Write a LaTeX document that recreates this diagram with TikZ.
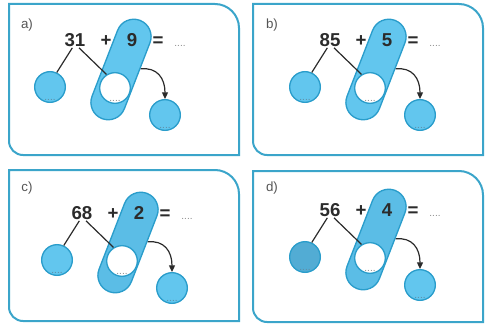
\documentclass[tikz,border=0pt]{standalone}
\usepackage{fontspec}
\setmainfont{Liberation Sans}
\usetikzlibrary{arrows.meta}
\definecolor{boxc}{HTML}{3BA5CA}
\definecolor{cfill}{HTML}{62C6EE}
\definecolor{cedge}{HTML}{2A9DCB}
\definecolor{cdark}{HTML}{52ACD4}
\definecolor{capc}{HTML}{5BBDE6}
\definecolor{txt}{HTML}{2B2B2B}
\definecolor{lab}{HTML}{555555}
\definecolor{dotb}{HTML}{5F8CA3}
\definecolor{dotw}{HTML}{8A8A8A}
\tikzset{
 boxst/.style={draw=boxc, line width=1.5pt},
 circ/.style={circle, draw=cedge, line width=1pt, fill=cfill, minimum size=23pt, inner sep=0pt},
 wcirc/.style={circ, fill=white},
 capsule/.style={rectangle, draw=cedge, line width=1pt, fill=#1, minimum width=79pt, minimum height=26pt, rounded corners=13pt, inner sep=0pt},
 numst/.style={font=\bfseries\fontsize{14}{16}\selectfont, text=txt, inner sep=0pt, anchor=base},
 labst/.style={font=\fontsize{10}{12}\selectfont, text=lab, inner sep=0pt},
 dotst/.style={font=\fontsize{7.5}{8}\selectfont, text=#1, inner sep=0pt, anchor=base},
 link/.style={draw=txt, line width=0.9pt},
 arr/.style={draw=txt, line width=0.9pt, -{Triangle[length=5pt,width=4.5pt]}},
}
\newcommand\pframe[4]{%
 \draw[boxst] (#1,#2) -- (#3-24,#2) .. controls (#3-10.8,#2) and (#3,#2+10.8) .. (#3,#2+24)
   -- (#3,#4) -- (#1+14,#4) .. controls (#1+6.3,#4) and (#1,#4-6.3) .. (#1,#4-14) -- cycle;
}
\newcommand\mkpanel[7]{%
 \begin{scope}[shift={(#2,#3)}]
  \node[capsule=#4, rotate=68.8] (#1cap) at (121,69.5) {};
  \node[wcirc] (#1w) at (115,88) {};
  \node[circ, fill=#7] (#1l) at (50,87) {};
  \node[circ] (#1r) at (165,115) {};
  \node[numst] (#1n) at (75,46.5) {#5};
  \node[numst] (#1p) at (106,46.5) {+};
  \node[numst] (#1a) at (132,46.5) {#6};
  \node[numst] (#1e) at (158,46.5) {=};
  \node[dotst=dotw] (#1q) at (180,46.5) {....};
  \node[dotst=dotb] (#1dl) at (50,100) {....};
  \node[dotst=dotw] (#1dw) at (115,101) {....};
  \node[dotst=dotb] (#1dr) at (165,128) {....};
  \draw[link] ([xshift=-2pt,yshift=-1pt]#1n.base) -- (#1l.65);
  \draw[link] ([xshift=3pt,yshift=-1pt]#1n.base) -- (#1w.122);
  \draw[arr] (#1cap.-67) .. controls (157,67) and (165,78) .. (#1r.north);
 \end{scope}}
\begin{document}
\begin{tikzpicture}[x=0.75pt,y=-0.75pt]
\useasboundingbox (0,0) rectangle (485,328);
\pframe{9}{4}{239}{155}
\pframe{253}{4}{483}{155}
\pframe{9}{170}{239}{321}
\pframe{253}{171}{483}{322}
\node[labst] (la) at (27,25) {a)};
\node[labst] (lb) at (272,25) {b)};
\node[labst] (lc) at (27,188) {c)};
\node[labst] (ld) at (272,188) {d)};
\mkpanel{a}{0}{0}{cfill}{31}{9}{cfill}
\mkpanel{b}{255}{0}{cfill}{85}{5}{cfill}
\mkpanel{c}{7}{173}{capc}{68}{2}{cfill}
\mkpanel{d}{255}{170}{capc}{56}{4}{cdark}
\end{tikzpicture}
\end{document}
